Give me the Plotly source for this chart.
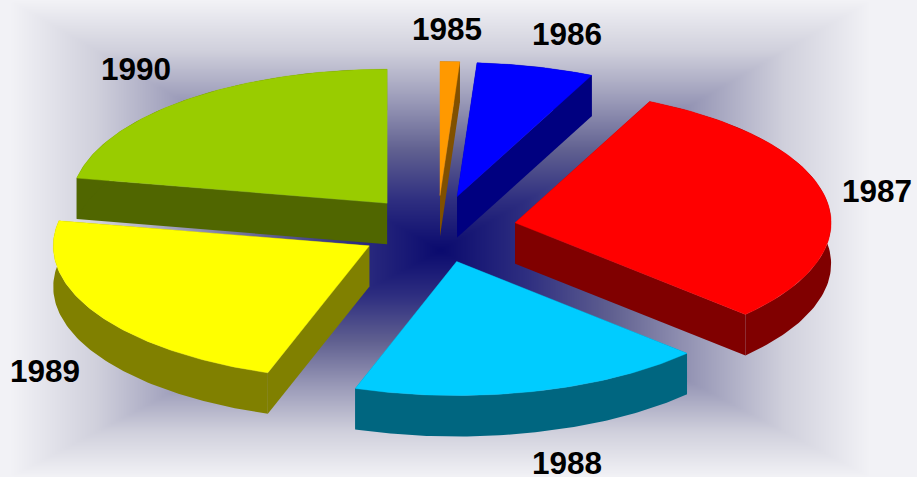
import numpy as np
import plotly.graph_objects as go

# Data
years = ["1985", "1986", "1987", "1988", "1989", "1990"]
shares = [1.0, 6.0, 30.0, 18.2, 22.8, 22.0]

# Styles and placement
top_colors = ["#FF9900", "#0000FF", "#FF0000", "#00CCFF", "#FFFF00", "#99CC00"]
side_colors = ["#805000", "#000080", "#800000", "#006680", "#808000", "#506600"]
label_x = [447, 567, 877, 567, 45, 136]
label_y = [32, 37, 194, 466, 374, 72]
paint_order = [5, 0, 1, 2, 4, 3]

W, H = 917, 477
CX, CY, A, B, DEPTH, EXPLODE = 437.5, 229, 316, 134, 41, 0.25


def project(theta, r, ox, oy):
    return ox + A * r * np.sin(theta), oy - B * r * np.cos(theta)


def poly(fig, xs, ys, color, width=0.0):
    fig.add_trace(go.Scatter(
        x=list(xs) + [xs[0]], y=list(ys) + [ys[0]], mode="lines", fill="toself",
        fillcolor=color, line=dict(color=color, width=width), hoverinfo="skip",
        showlegend=False))


fig = go.Figure()

# Rectangular gradient backdrop
gx = np.linspace(0, W, 306)
gy = np.linspace(0, H, 160)
XX, YY = np.meshgrid(gx, gy)
tx = np.abs(XX - 440) / 430
ty = np.where(YY < 250, (250 - YY) / 250, (YY - 250) / 227)
fig.add_trace(go.Heatmap(
    x=gx, y=gy, z=np.clip(np.maximum(tx, ty), 0, 1), zmin=0, zmax=1, zsmooth="best",
    showscale=False, hoverinfo="skip",
    colorscale=[[0, "#0a0a6e"], [0.2, "#2e2e80"], [0.4, "#606090"],
                [0.6, "#9a9ab8"], [0.8, "#d0d0dc"], [1, "#f2f2f6"]]))

# Slices
edges = np.cumsum([0] + shares) / sum(shares) * 2 * np.pi
for i in paint_order:
    t0, t1 = edges[i], edges[i + 1]
    mid = (t0 + t1) / 2
    ox, oy = project(mid, EXPLODE, CX, CY)
    arc = np.linspace(t0, t1, 90)
    ax, ay = project(arc, 1.0, ox, oy)
    # radial walls
    for ex, ey in ((ax[0], ay[0]), (ax[-1], ay[-1])):
        poly(fig, [ox, ex, ex, ox], [oy, ey, ey + DEPTH, oy + DEPTH], side_colors[i])
    # outer wall
    poly(fig, list(ax) + list(ax[::-1]), list(ay) + list(ay[::-1] + DEPTH), side_colors[i])
    # top face
    poly(fig, [ox] + list(ax), [oy] + list(ay), top_colors[i], 0.4)

# Labels
fig.add_trace(go.Scatter(
    x=label_x, y=label_y, text=years, mode="text", hoverinfo="skip", showlegend=False,
    textposition="middle center",
    textfont=dict(family="Liberation Sans", size=31.5, color="#000000", weight="bold")))

fig.update_layout(
    width=W, height=H, margin=dict(l=0, r=0, t=0, b=0),
    paper_bgcolor="#eeeef2", plot_bgcolor="#eeeef2",
    xaxis=dict(range=[0, W], visible=False, fixedrange=True),
    yaxis=dict(range=[H, 0], visible=False, fixedrange=True))

fig.write_html("out.html", config=dict(displayModeBar=False),
               post_script="document.body.style.margin='0';document.body.style.overflow='hidden';")
